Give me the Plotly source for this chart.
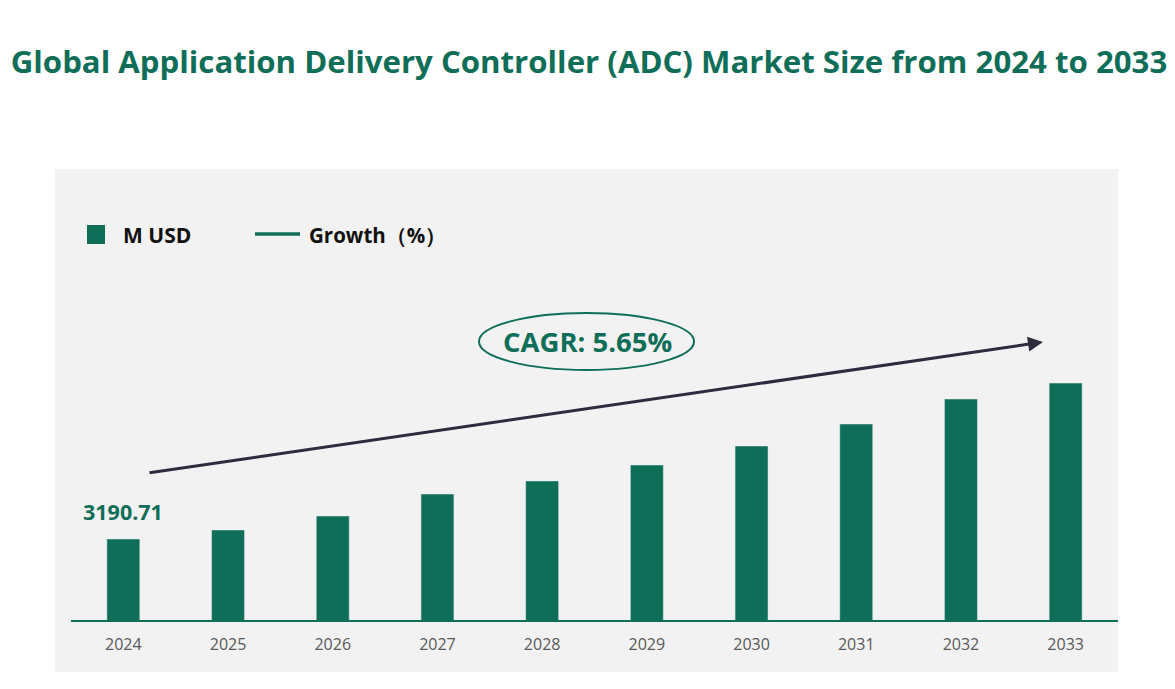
import plotly.graph_objects as go

years = ["2024", "2025", "2026", "2027", "2028", "2029", "2030", "2031", "2032", "2033"]
market_musd = [3190.71, 3308, 3491, 3779, 3950, 4159, 4408, 4696, 5023, 5232]
first_label = "3190.71"
cagr_text = "CAGR: 5.65%"
title = "Global Application Delivery Controller (ADC) Market Size from 2024 to 2033"

GREEN = "#0f6e58"
OFF = 8                      # page body margin
W, H = 1175 - OFF, 689 - OFF
L, R, T, B = 71 - OFF, 57, 169 - OFF, 69   # plot area 71..1118 x 169..620 on the page


def px(x):
    return (x - 71) / (1118 - 71)


def py(y):
    return (620 - y) / (620 - 169)


fig = go.Figure()
fig.add_trace(go.Bar(x=years, y=market_musd, marker_color=GREEN, name="M USD",
                     showlegend=False))

shapes = [
    # grey panel
    dict(type="rect", xref="paper", yref="paper", x0=px(55), x1=px(1118),
         y0=py(672), y1=py(169), fillcolor="#f2f2f2", line_width=0, layer="below"),
    # legend marks
    dict(type="rect", xref="paper", yref="paper", x0=px(87), x1=px(105),
         y0=py(244), y1=py(225), fillcolor=GREEN, line_width=0),
    dict(type="line", xref="paper", yref="paper", x0=px(255), x1=px(300),
         y0=py(234), y1=py(234), line=dict(color=GREEN, width=3.5)),
    # CAGR ellipse
    dict(type="circle", xref="paper", yref="paper", x0=px(479), x1=px(694),
         y0=py(370), y1=py(313), line=dict(color=GREEN, width=2)),
]

annotations = [
    dict(xref="paper", yref="paper", x=px(121), y=py(235), xanchor="left", yanchor="middle",
         text="M USD", showarrow=False,
         font=dict(family="Open Sans", size=21, color="#111111", weight="bold")),
    dict(xref="paper", yref="paper", x=px(307), y=py(235), xanchor="left", yanchor="middle",
         text="Growth（%）", showarrow=False,
         font=dict(family="Open Sans", size=20.5, color="#111111", weight="bold")),
    dict(xref="paper", yref="paper", x=px(587), y=py(341), xanchor="center", yanchor="middle",
         text=cagr_text, showarrow=False,
         font=dict(family="Open Sans", size=27.5, color=GREEN, weight="bold")),
    # trend arrow (tail given as pixel offset from the head)
    dict(xref="paper", yref="paper", axref="pixel", ayref="pixel",
         x=px(1043), y=py(342), ax=148 - 1043, ay=473 - 342, text="", showarrow=True,
         arrowhead=2, arrowsize=1, arrowwidth=3, arrowcolor="#2e2b3e"),
    # first value label (x is the category index of the first year)
    dict(xref="x", yref="y", x=0, y=market_musd[0], text=first_label, showarrow=False,
         yanchor="middle", yshift=27,
         font=dict(family="Open Sans", size=21.5, color=GREEN, weight="bold")),
]

fig.update_layout(
    width=W, height=H,
    margin=dict(l=L, r=R, t=T, b=B),
    paper_bgcolor="white",
    plot_bgcolor="rgba(0,0,0,0)",
    bargap=0.685,
    title=dict(text=title, xref="container", x=(589 - OFF) / W, xanchor="center",
               y=1 - (62 - OFF) / H, yanchor="middle",
               font=dict(family="Open Sans", size=31.2, color=GREEN, weight="bold")),
    shapes=shapes,
    annotations=annotations,
    showlegend=False,
)
fig.update_xaxes(type="category", range=[-0.5, 9.5], showline=True, linecolor=GREEN,
                 linewidth=2, showgrid=False, ticks="outside", ticklen=9,
                 tickcolor="rgba(0,0,0,0)",
                 tickfont=dict(family="Open Sans", size=16, color="#595959"))
fig.update_yaxes(range=[2130, 8034], visible=False, showgrid=False, zeroline=False)

fig.write_html("out.html")
